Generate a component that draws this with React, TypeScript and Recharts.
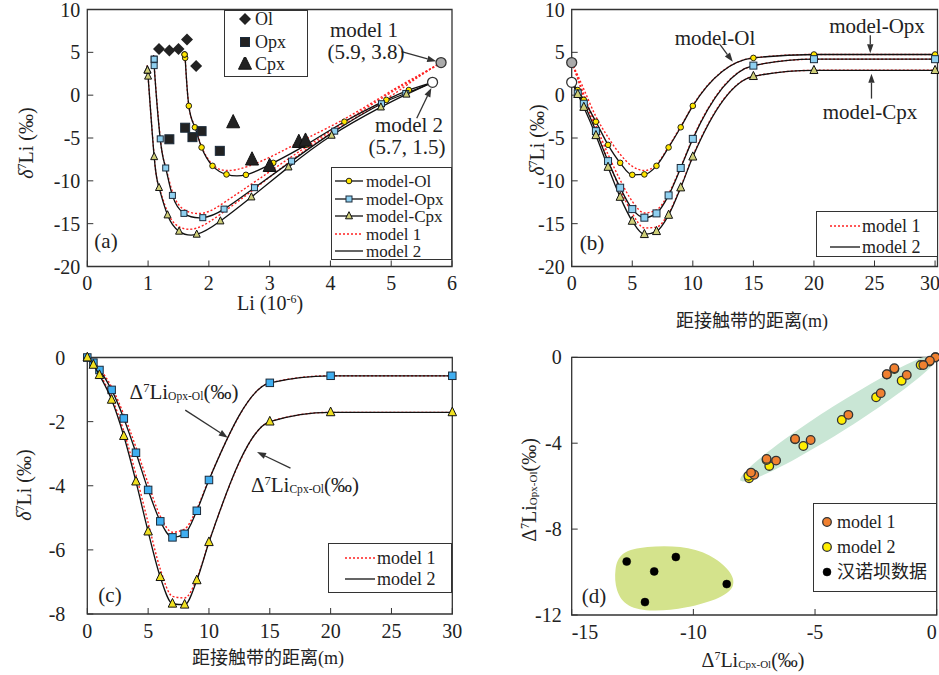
import React from "react"
import { ScatterChart, Scatter, XAxis, YAxis, ReferenceArea, ReferenceLine } from "recharts"

const SERIF = "'Liberation Serif', 'Times New Roman', serif"
const CJK = "'Liberation Serif', 'Noto Sans CJK SC', serif"
const INK = "#222"

// distance from the contact (m), first entry is the model starting point
const DIST = [0, 0.5, 1, 2, 3, 4, 5, 6, 7, 8, 9, 10, 15, 20, 30]

// model 2 — δ7Li (‰)
const OL_D2 = [1.5, 0.6, -0.55, -3.1, -5.8, -7.9, -9.3, -9.25, -8.25, -6.1, -3.75, -1.25, 4.35, 4.75, 4.75]
const OPX_D2 = [1.5, 0.2, -1.0, -4.2, -7.7, -10.8, -13.3, -14.3, -13.8, -11.7, -8.5, -5.1, 3.45, 4.2, 4.2]
const CPX_D2 = [1.5, 0.1, -1.4, -4.7, -8.4, -11.9, -14.7, -16.25, -15.9, -14.0, -10.8, -7.2, 2.2, 2.9, 2.9]
// model 2 — Li (10^-6)
const OL_LI2 = [5.68, 5.29, 4.92, 4.23, 3.6, 3.06, 2.61, 2.29, 2.06, 1.88, 1.77, 1.67, 1.61, 1.6, 1.6]
const OPX_LI2 = [5.68, 5.24, 4.84, 4.07, 3.36, 2.75, 2.25, 1.9, 1.59, 1.4, 1.29, 1.2, 1.1, 1.1, 1.1]
const CPX_LI2 = [5.68, 5.25, 4.83, 4.02, 3.31, 2.7, 2.19, 1.8, 1.51, 1.32, 1.18, 1.1, 1.0, 0.99, 0.99]

// model 1 — δ7Li (‰)
const OL_D1 = [3.8, 2.3, 0.7, -2.5, -4.9, -6.9, -8.3, -8.8, -8.1, -6.0, -3.65, -1.2, 4.35, 4.75, 4.75]
const OPX_D1 = [3.8, 2.0, 0.1, -3.5, -6.9, -9.9, -12.4, -13.75, -13.4, -11.5, -8.4, -5.0, 3.45, 4.2, 4.2]
const CPX_D1 = [3.8, 1.9, -0.3, -4.0, -7.6, -11.0, -13.8, -15.5, -15.4, -13.8, -10.7, -7.1, 2.2, 2.9, 2.9]
// model 1 — Li (10^-6)
const OL_LI1 = [5.82, 5.45, 5.05, 4.3, 3.65, 3.1, 2.65, 2.3, 2.06, 1.88, 1.77, 1.67, 1.61, 1.6, 1.6]
const OPX_LI1 = [5.82, 5.4, 4.95, 4.15, 3.42, 2.8, 2.28, 1.92, 1.6, 1.41, 1.29, 1.2, 1.1, 1.1, 1.1]
const CPX_LI1 = [5.82, 5.4, 4.95, 4.1, 3.36, 2.74, 2.21, 1.81, 1.52, 1.33, 1.18, 1.1, 1.0, 0.99, 0.99]

// measured minerals (panel a)
const OL_MEAS_LI = [1.18, 1.35, 1.5, 1.64, 1.79]
const OL_MEAS_D = [5.4, 5.2, 5.4, 6.5, 3.4]
const OPX_MEAS_LI = [1.35, 1.61, 1.73, 1.88, 2.18]
const OPX_MEAS_D = [-5.15, -3.8, -4.9, -4.2, -6.5]
const CPX_MEAS_LI = [2.4, 2.71, 3.0, 3.48, 3.59]
const CPX_MEAS_D = [-3.2, -7.55, -8.3, -5.5, -5.35]

// panel c — Δ7Li vs distance
const OPX_OL_2 = [0, -0.16, -0.39, -1.01, -1.9, -2.97, -4.13, -5.11, -5.61, -5.5, -4.78, -3.82, -0.79, -0.57, -0.57]
const CPX_OL_2 = [0, -0.23, -0.55, -1.32, -2.45, -3.87, -5.43, -6.85, -7.68, -7.71, -6.95, -5.76, -2.0, -1.71, -1.71]
const OPX_OL_1 = [0, -0.14, -0.35, -0.92, -1.78, -2.8, -3.93, -4.95, -5.45, -5.35, -4.72, -3.8, -0.79, -0.57, -0.57]
const CPX_OL_1 = [0, -0.2, -0.5, -1.25, -2.3, -3.65, -5.15, -6.6, -7.45, -7.5, -6.9, -5.75, -2.0, -1.71, -1.71]

// panel d — Δ7Li Cpx-Ol vs Δ7Li Opx-Ol
const D_CPX_1 = [-0.05, -0.28, -0.55, -1.23, -2.3, -3.63, -5.18, -6.6, -7.5, -7.63, -6.99, -5.82, -2.05, -1.74]
const D_OPX_1 = [0, -0.16, -0.36, -0.82, -1.67, -2.68, -3.85, -4.81, -5.47, -5.37, -4.73, -3.8, -0.79, -0.51]
const D_CPX_2 = [-0.05, -0.3, -0.66, -1.44, -2.49, -3.9, -5.48, -6.88, -7.71, -7.74, -6.99, -5.82, -2.05, -1.74]
const D_OPX_2 = [0, -0.2, -0.36, -1.09, -1.86, -2.92, -4.13, -5.06, -5.63, -5.52, -4.78, -3.82, -0.8, -0.55]
const HAN_X = [-12.74, -11.61, -10.72, -8.63, -11.99]
const HAN_Y = [-9.51, -9.97, -9.3, -10.56, -11.4]
// outlines of the shaded fields
const TREND_X = [0.31, -0.12, -1.57, -3.67, -5.86, -7.53, -8.26, -7.83, -6.37, -4.27, -2.09, -0.42]
const TREND_Y = [0.28, -0.4, -1.72, -3.33, -4.8, -5.73, -5.88, -5.2, -3.88, -2.27, -0.8, 0.13]
const BLOB_X = [-13.25, -13.0, -11.95, -10.5, -9.3, -8.45, -8.25, -8.8, -10.3, -11.7, -12.75, -13.2]
const BLOB_Y = [-9.85, -9.05, -8.8, -8.77, -9.15, -9.95, -10.65, -11.2, -11.7, -11.85, -11.65, -10.9]

const LI_TICKS = [0, 1, 2, 3, 4, 5, 6]
const DELTA_TICKS = [-20, -15, -10, -5, 0, 5, 10]
const DIST_TICKS = [0, 5, 10, 15, 20, 25, 30]
const C_TICKS = [-8, -6, -4, -2, 0]
const D_X_TICKS = [-15, -10, -5, 0]
const D_Y_TICKS = [-12, -8, -4, 0]

const pts = (xs: number[], ys: number[]) => xs.map((x, i) => ({ x, y: ys[i] }))

const RED = { stroke: "#ff2020", strokeWidth: 1.4, strokeDasharray: "2 2", fill: "none" }
const BLACK = { stroke: "#111", strokeWidth: 1.3, fill: "none" }

const noDot = () => <g />
const olDot = (p: any) => <circle cx={p.cx} cy={p.cy} r={2.8} fill="#ffe600" stroke="#111" strokeWidth={0.9} />
const sq = (fill: string, s: number) => (p: any) => (
  <rect x={p.cx - s / 2} y={p.cy - s / 2} width={s} height={s} fill={fill} stroke="#1b2b3b" strokeWidth={1} />
)
const tri = (fill: string, s: number) => (p: any) => (
  <polygon
    points={`${p.cx},${p.cy - s * 0.62} ${p.cx + s / 2},${p.cy + s * 0.4} ${p.cx - s / 2},${p.cy + s * 0.4}`}
    fill={fill}
    stroke="#111"
    strokeWidth={1}
  />
)
const diamond = (s: number) => (p: any) => (
  <polygon points={`${p.cx},${p.cy - s} ${p.cx + s},${p.cy} ${p.cx},${p.cy + s} ${p.cx - s},${p.cy}`} fill="#222" />
)
const dot = (fill: string, r: number, stroke = "#333", sw = 1.3) => (p: any) => (
  <circle cx={p.cx} cy={p.cy} r={r} fill={fill} stroke={stroke} strokeWidth={sw} />
)

const arrow = (p: any) => {
  const { x1, y1, x2, y2 } = p
  const a = Math.atan2(y2 - y1, x2 - x1)
  const L = 9
  const W = 3.2
  const bx = x2 - L * Math.cos(a)
  const by = y2 - L * Math.sin(a)
  const head = `${x2},${y2} ${bx - W * Math.sin(a)},${by + W * Math.cos(a)} ${bx + W * Math.sin(a)},${by - W * Math.cos(a)}`
  return (
    <g>
      <line x1={x1} y1={y1} x2={bx} y2={by} stroke="#333" strokeWidth={1.3} />
      <polygon points={head} fill="#333" />
    </g>
  )
}

// tick labels in serif
const tickText = (p: any, anchor: string, dy: string, dx = 0) => (
  <text x={p.x + dx} y={p.y} dy={dy} textAnchor={anchor} fontFamily={SERIF} fontSize={20} fill={INK}>
    {p.payload.value}
  </text>
)
const xTick = (p: any) => tickText(p, "middle", "0.71em")
const yTick = (p: any) => tickText(p, "end", "0.35em")
const bXTick = (p: any) => (p.payload.value === 30 ? tickText(p, "end", "0.71em", 5) : xTick(p))
const dXTick = (p: any) => {
  const v = p.payload.value
  if (v === -15) return tickText(p, "start", "0.71em")
  if (v === 0) return tickText(p, "end", "0.71em")
  return xTick(p)
}

const axisBase = {
  type: "number" as const,
  axisLine: false,
  tickSize: -6,
  tickLine: { stroke: "#333" },
  interval: 0 as const,
}

function Txt({ x, y, size = 20, rot = false, anchor = "middle", family = SERIF, children }: any) {
  const tx = anchor === "start" ? "0" : anchor === "end" ? "-100%" : "-50%"
  return (
    <div
      style={{
        position: "absolute",
        left: x,
        top: y,
        transform: `translate(${tx}, -50%)${rot ? " rotate(-90deg)" : ""}`,
        fontFamily: family,
        fontSize: size,
        lineHeight: 1,
        whiteSpace: "nowrap",
        color: INK,
      }}
    >
      {children}
    </div>
  )
}

const Sup = ({ c }: { c: string }) => <span style={{ fontSize: "0.6em", verticalAlign: "0.6em" }}>{c}</span>
const Sub = ({ c }: { c: string }) => <span style={{ fontSize: "0.55em", verticalAlign: "-0.1em" }}>{c}</span>

const DeltaLi = () => (
  <span>
    <i>δ</i>
    <Sup c="7" />
    Li (‰)
  </span>
)
const BigDelta = ({ sub }: { sub: string }) => (
  <span>
    Δ<Sup c="7" />
    Li
    <Sub c={sub} />
    (‰)
  </span>
)

function Box({ x, y, w, h }: any) {
  return (
    <div
      style={{
        position: "absolute",
        left: x,
        top: y,
        width: w,
        height: h,
        border: "1.3px solid #333",
        background: "#fff",
        boxSizing: "border-box",
      }}
    />
  )
}

function Sample({ x, y, w = 30, line, marker }: any) {
  return (
    <svg style={{ position: "absolute", left: x, top: y - 7 }} width={w} height={14}>
      {line && <line x1={0} y1={7} x2={w} y2={7} {...line} />}
      {marker && marker({ cx: w / 2, cy: 7 })}
    </svg>
  )
}

export default function App() {
  return (
    <div style={{ position: "absolute", left: 0, top: 0, width: 939, height: 675, background: "#fff" }}>
      {/* (a) */}
      <div style={{ position: "absolute", left: 0, top: 0 }}>
        <ScatterChart width={470} height={330} margin={{ top: 9.5, right: 18, bottom: 0, left: 0 }}>
          <XAxis {...axisBase} dataKey="x" domain={[0, 6]} ticks={LI_TICKS} height={63.5} tickMargin={15} tick={xTick} />
          <YAxis {...axisBase} dataKey="y" domain={[-20, 10]} ticks={DELTA_TICKS} width={87.3} tickMargin={13} tick={yTick} />
          <ReferenceArea x1={0} x2={6} y1={-20} y2={10} fill="none" stroke="#333" strokeWidth={1.3} />
          <Scatter data={pts(OL_LI1, OL_D1)} shape={noDot} line={RED} lineJointType="natural" isAnimationActive={false} />
          <Scatter data={pts(OPX_LI1, OPX_D1)} shape={noDot} line={RED} lineJointType="natural" isAnimationActive={false} />
          <Scatter data={pts(CPX_LI1, CPX_D1)} shape={noDot} line={RED} lineJointType="natural" isAnimationActive={false} />
          <Scatter data={pts(OL_LI2, OL_D2)} shape={noDot} line={BLACK} lineJointType="natural" isAnimationActive={false} />
          <Scatter data={pts(OPX_LI2, OPX_D2)} shape={noDot} line={BLACK} lineJointType="natural" isAnimationActive={false} />
          <Scatter data={pts(CPX_LI2, CPX_D2)} shape={noDot} line={BLACK} lineJointType="natural" isAnimationActive={false} />
          <Scatter data={pts(OL_LI2.slice(1), OL_D2.slice(1))} shape={olDot} isAnimationActive={false} />
          <Scatter data={pts(OPX_LI2.slice(1), OPX_D2.slice(1))} shape={sq("#8fd0f0", 6)} isAnimationActive={false} />
          <Scatter data={pts(CPX_LI2.slice(1), CPX_D2.slice(1))} shape={tri("#cfcf78", 7)} isAnimationActive={false} />
          <Scatter data={pts(OL_MEAS_LI, OL_MEAS_D)} shape={diamond(6)} isAnimationActive={false} />
          <Scatter data={pts(OPX_MEAS_LI, OPX_MEAS_D)} shape={sq("#222", 9)} isAnimationActive={false} />
          <Scatter data={pts(CPX_MEAS_LI, CPX_MEAS_D)} shape={tri("#222", 13)} isAnimationActive={false} />
          <Scatter data={pts([OL_LI1[0]], [OL_D1[0]])} shape={dot("#aaa", 5)} isAnimationActive={false} />
          <Scatter data={pts([OL_LI2[0]], [OL_D2[0]])} shape={dot("#fff", 5)} isAnimationActive={false} />
          <ReferenceLine segment={[{ x: 5.17, y: 5.07 }, { x: 5.74, y: 3.95 }]} shape={arrow} />
          <ReferenceLine segment={[{ x: 5.42, y: -2.7 }, { x: 5.66, y: 0.85 }]} shape={arrow} />
        </ScatterChart>
      </div>

      {/* (b) */}
      <div style={{ position: "absolute", left: 480, top: 0 }}>
        <ScatterChart width={459} height={335} margin={{ top: 9.5, right: 1.5, bottom: 0, left: 0 }}>
          <XAxis {...axisBase} dataKey="x" domain={[0, 30.2]} ticks={DIST_TICKS} height={68.5} tickMargin={15} tick={bXTick} />
          <YAxis {...axisBase} dataKey="y" domain={[-20, 10]} ticks={DELTA_TICKS} width={91.7} tickMargin={13} tick={yTick} />
          <ReferenceArea x1={0} x2={30.2} y1={-20} y2={10} fill="none" stroke="#333" strokeWidth={1.3} />
          <Scatter data={pts(DIST, OL_D1)} shape={noDot} line={RED} lineJointType="monotoneX" isAnimationActive={false} />
          <Scatter data={pts(DIST, OPX_D1)} shape={noDot} line={RED} lineJointType="monotoneX" isAnimationActive={false} />
          <Scatter data={pts(DIST, CPX_D1)} shape={noDot} line={RED} lineJointType="monotoneX" isAnimationActive={false} />
          <Scatter data={pts(DIST, OL_D2)} shape={noDot} line={BLACK} lineJointType="monotoneX" isAnimationActive={false} />
          <Scatter data={pts(DIST, OPX_D2)} shape={noDot} line={BLACK} lineJointType="monotoneX" isAnimationActive={false} />
          <Scatter data={pts(DIST, CPX_D2)} shape={noDot} line={BLACK} lineJointType="monotoneX" isAnimationActive={false} />
          <Scatter data={pts(DIST.slice(1), OL_D2.slice(1))} shape={olDot} isAnimationActive={false} />
          <Scatter data={pts(DIST.slice(1), OPX_D2.slice(1))} shape={sq("#8fd0f0", 7)} isAnimationActive={false} />
          <Scatter data={pts(DIST.slice(1), CPX_D2.slice(1))} shape={tri("#cfcf78", 8)} isAnimationActive={false} />
          <Scatter data={pts([DIST[0]], [OL_D1[0]])} shape={dot("#aaa", 5)} isAnimationActive={false} />
          <Scatter data={pts([DIST[0]], [OL_D2[0]])} shape={dot("#fff", 5)} isAnimationActive={false} />
          <ReferenceLine segment={[{ x: 12.25, y: 5.9 }, { x: 13.3, y: 3.9 }]} shape={arrow} />
          <ReferenceLine segment={[{ x: 24.65, y: 7.0 }, { x: 24.65, y: 4.9 }]} shape={arrow} />
          <ReferenceLine segment={[{ x: 24.75, y: -0.4 }, { x: 24.75, y: 2.5 }]} shape={arrow} />
        </ScatterChart>
      </div>

      {/* (c) */}
      <div style={{ position: "absolute", left: 0, top: 340 }}>
        <ScatterChart width={470} height={335} margin={{ top: 17.5, right: 17.7, bottom: 0, left: 0 }}>
          <XAxis {...axisBase} dataKey="x" domain={[0, 30]} ticks={DIST_TICKS} height={61} tickMargin={16} tick={xTick} />
          <YAxis {...axisBase} dataKey="y" domain={[-8, 0]} ticks={C_TICKS} width={87.3} tickMargin={28} tick={yTick} />
          <ReferenceArea x1={0} x2={30} y1={-8} y2={0} fill="none" stroke="#333" strokeWidth={1.3} />
          <Scatter data={pts(DIST, OPX_OL_1)} shape={noDot} line={RED} lineJointType="monotoneX" isAnimationActive={false} />
          <Scatter data={pts(DIST, CPX_OL_1)} shape={noDot} line={RED} lineJointType="monotoneX" isAnimationActive={false} />
          <Scatter data={pts(DIST, OPX_OL_2)} shape={sq("#40aef0", 7.5)} line={BLACK} lineJointType="monotoneX" isAnimationActive={false} />
          <Scatter data={pts(DIST, CPX_OL_2)} shape={tri("#f0e020", 8.5)} line={BLACK} lineJointType="monotoneX" isAnimationActive={false} />
          <ReferenceLine segment={[{ x: 8.05, y: -1.64 }, { x: 11.55, y: -2.5 }]} shape={arrow} />
          <ReferenceLine segment={[{ x: 16.7, y: -3.45 }, { x: 13.95, y: -2.95 }]} shape={arrow} />
        </ScatterChart>
      </div>

      {/* (d) */}
      <div style={{ position: "absolute", left: 480, top: 340 }}>
        <ScatterChart width={459} height={335} margin={{ top: 17.3, right: 2.3, bottom: 0, left: 0 }}>
          <XAxis {...axisBase} dataKey="x" domain={[-15, 0]} ticks={D_X_TICKS} height={60} tickMargin={16} tick={dXTick} />
          <YAxis {...axisBase} dataKey="y" domain={[-12, 0]} ticks={D_Y_TICKS} width={91.7} tickMargin={16} tick={yTick} />
          <XAxis xAxisId="e" type="number" dataKey="x" domain={[-15, 0]} hide allowDataOverflow />
          <YAxis yAxisId="e" type="number" dataKey="y" domain={[-12, 0]} hide allowDataOverflow />
          <Scatter xAxisId="e" yAxisId="e" data={pts(TREND_X, TREND_Y)} shape={noDot} line={{ fill: "#c9e6d5", stroke: "none" }} lineJointType="basisClosed" isAnimationActive={false} />
          <Scatter xAxisId="e" yAxisId="e" data={pts(BLOB_X, BLOB_Y)} shape={noDot} line={{ fill: "#d4e38c", stroke: "none" }} lineJointType="basisClosed" isAnimationActive={false} />
          <ReferenceArea x1={-15} x2={0} y1={-12} y2={0} fill="none" stroke="#333" strokeWidth={1.3} />
          <Scatter data={pts(D_CPX_2, D_OPX_2)} shape={dot("#ffee00", 4.3)} isAnimationActive={false} />
          <Scatter data={pts(D_CPX_1, D_OPX_1)} shape={dot("#f08030", 4.3)} isAnimationActive={false} />
          <Scatter data={pts(HAN_X, HAN_Y)} shape={dot("#000", 4, "#000", 0.5)} isAnimationActive={false} />
        </ScatterChart>
      </div>

      {/* axis titles */}
      <Txt x={26} y={143} rot>
        <DeltaLi />
      </Txt>
      <Txt x={270} y={303}>
        Li (10<Sup c="-6" />)
      </Txt>
      <Txt x={537} y={140} rot>
        <DeltaLi />
      </Txt>
      <Txt x={752} y={321} size={18} family={CJK}>
        距接触带的距离(m)
      </Txt>
      <Txt x={24} y={485} rot>
        <DeltaLi />
      </Txt>
      <Txt x={268} y={658} size={18} family={CJK}>
        距接触带的距离(m)
      </Txt>
      <Txt x={529} y={490} rot>
        <BigDelta sub="Opx-Ol" />
      </Txt>
      <Txt x={753} y={660}>
        <BigDelta sub="Cpx-Ol" />
      </Txt>

      {/* panel letters */}
      <Txt x={106} y={241} size={21}>(a)</Txt>
      <Txt x={592} y={243} size={21}>(b)</Txt>
      <Txt x={110} y={595} size={21}>(c)</Txt>
      <Txt x={594} y={596} size={21}>(d)</Txt>

      {/* annotations */}
      <Txt x={364} y={30} size={21}>model 1</Txt>
      <Txt x={366} y={52} size={21}>(5.9, 3.8)</Txt>
      <Txt x={409} y={125} size={21}>model 2</Txt>
      <Txt x={407} y={147} size={21}>(5.7, 1.5)</Txt>
      <Txt x={715} y={38} size={21}>model-Ol</Txt>
      <Txt x={877} y={26} size={21}>model-Opx</Txt>
      <Txt x={870} y={112} size={21}>model-Cpx</Txt>
      <Txt x={184} y={392} size={21}>
        <BigDelta sub="Opx-Ol" />
      </Txt>
      <Txt x={305} y={485} size={21}>
        <BigDelta sub="Cpx-Ol" />
      </Txt>

      {/* legend (a) minerals */}
      <Box x={224} y={9.5} w={84} h={67} />
      <Sample x={238} y={19} w={14} marker={diamond(6)} />
      <Txt x={255} y={19} size={18} anchor="start">Ol</Txt>
      <Sample x={238} y={41.5} w={14} marker={sq("#222", 9)} />
      <Txt x={255} y={41.5} size={18} anchor="start">Opx</Txt>
      <Sample x={238} y={64} w={14} marker={tri("#222", 13)} />
      <Txt x={255} y={64} size={18} anchor="start">Cpx</Txt>

      {/* legend (a) models */}
      <Box x={331} y={167} w={121} h={93} />
      <Sample x={335} y={181} w={28} line={BLACK} marker={olDot} />
      <Txt x={366} y={181} size={17} anchor="start">model-Ol</Txt>
      <Sample x={335} y={198.5} w={28} line={BLACK} marker={sq("#8fd0f0", 6)} />
      <Txt x={366} y={198.5} size={17} anchor="start">model-Opx</Txt>
      <Sample x={335} y={216} w={28} line={BLACK} marker={tri("#cfcf78", 7)} />
      <Txt x={366} y={216} size={17} anchor="start">model-Cpx</Txt>
      <Sample x={335} y={233.5} w={28} line={RED} />
      <Txt x={366} y={233.5} size={17} anchor="start">model 1</Txt>
      <Sample x={335} y={251} w={28} line={BLACK} />
      <Txt x={366} y={251} size={17} anchor="start">model 2</Txt>

      {/* legend (b) */}
      <Box x={816} y={211} w={121.5} h={46} />
      <Sample x={830} y={226} w={30} line={RED} />
      <Txt x={862} y={226} size={18} anchor="start">model 1</Txt>
      <Sample x={830} y={247} w={30} line={BLACK} />
      <Txt x={862} y={247} size={18} anchor="start">model 2</Txt>

      {/* legend (c) */}
      <Box x={328} y={543} w={124} h={50} />
      <Sample x={345} y={558} w={30} line={RED} />
      <Txt x={377} y={558} size={18} anchor="start">model 1</Txt>
      <Sample x={345} y={579} w={30} line={BLACK} />
      <Txt x={377} y={579} size={18} anchor="start">model 2</Txt>

      {/* legend (d) */}
      <Box x={813} y={503} w={124} h={89} />
      <Sample x={820} y={522} w={14} marker={dot("#f08030", 4.3)} />
      <Txt x={837} y={522} size={18} anchor="start">model 1</Txt>
      <Sample x={820} y={547} w={14} marker={dot("#ffee00", 4.3)} />
      <Txt x={837} y={547} size={18} anchor="start">model 2</Txt>
      <Sample x={820} y={572} w={14} marker={dot("#000", 4, "#000", 0.5)} />
      <Txt x={837} y={572} size={18} anchor="start" family={CJK}>汉诺坝数据</Txt>
    </div>
  )
}
